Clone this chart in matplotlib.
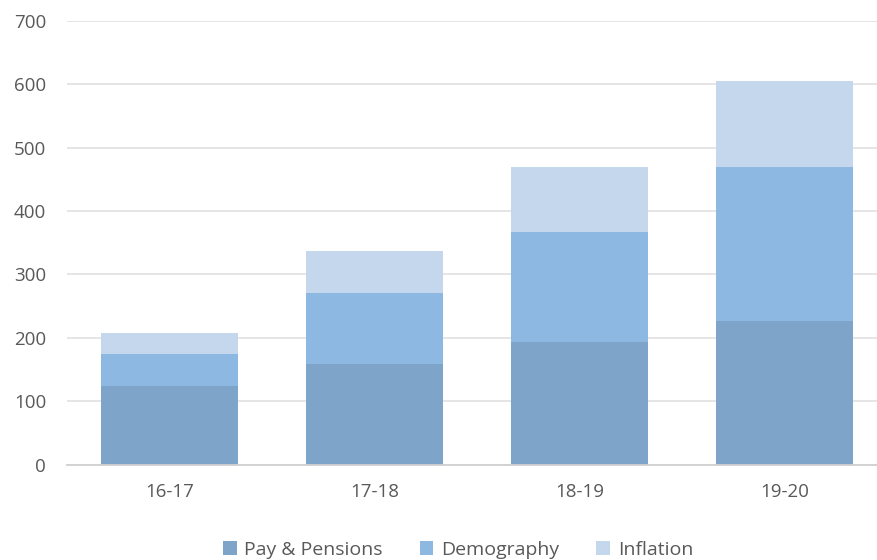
import numpy as np
import matplotlib
matplotlib.use('Agg')
import matplotlib.pyplot as plt

# data (stacked totals per year)
years = ['16-17', '17-18', '18-19', '19-20']
pay_pensions = np.array([124, 158, 193, 227])
demography = np.array([50, 112, 174, 243])
inflation = np.array([34, 67, 102, 136])

c_pay = '#7FA4C9'
c_demo = '#8DB8E2'
c_infl = '#C5D7EC'
grey_txt = '#595959'

plt.rcParams['font.family'] = ['Open Sans', 'DejaVu Sans']

fig = plt.figure(figsize=(8.77, 5.6), dpi=100)
W, H = 877, 560
left, right = 67, 887
bottom, top = 464.5, 21
ax = fig.add_axes([left / W, (H - bottom) / H, (right - left) / W, (bottom - top) / H])

x = np.arange(len(years))
w = 0.668
ax.bar(x, pay_pensions, w, color=c_pay, label='Pay & Pensions', zorder=2)
ax.bar(x, demography, w, bottom=pay_pensions, color=c_demo, label='Demography', zorder=2)
ax.bar(x, inflation, w, bottom=pay_pensions + demography, color=c_infl, label='Inflation', zorder=2)

ax.set_xlim(-0.5, 3.5)
ax.set_ylim(0, 700)
ax.set_yticks(np.arange(0, 701, 100))
ax.set_xticks(x)
ax.set_xticklabels(years)
ax.yaxis.grid(True, color='#E3E3E3', linewidth=1.3, zorder=0)
ax.set_axisbelow(True)

for s in ['top', 'right', 'left']:
    ax.spines[s].set_visible(False)
ax.spines['bottom'].set_color('#D0D0D0')
ax.spines['bottom'].set_linewidth(1.3)
ax.tick_params(axis='both', length=0, labelsize=13.5, labelcolor=grey_txt)
ax.tick_params(axis='y', pad=15)
ax.tick_params(axis='x', pad=13)

leg = fig.legend(loc='center', bbox_to_anchor=(458 / W, (H - 550) / H), ncol=3,
                 frameon=False, fontsize=14, handlelength=0.7, handleheight=0.7,
                 handletextpad=0.4, columnspacing=1.9, labelcolor=grey_txt)

fig.savefig('out.png', dpi=100)
